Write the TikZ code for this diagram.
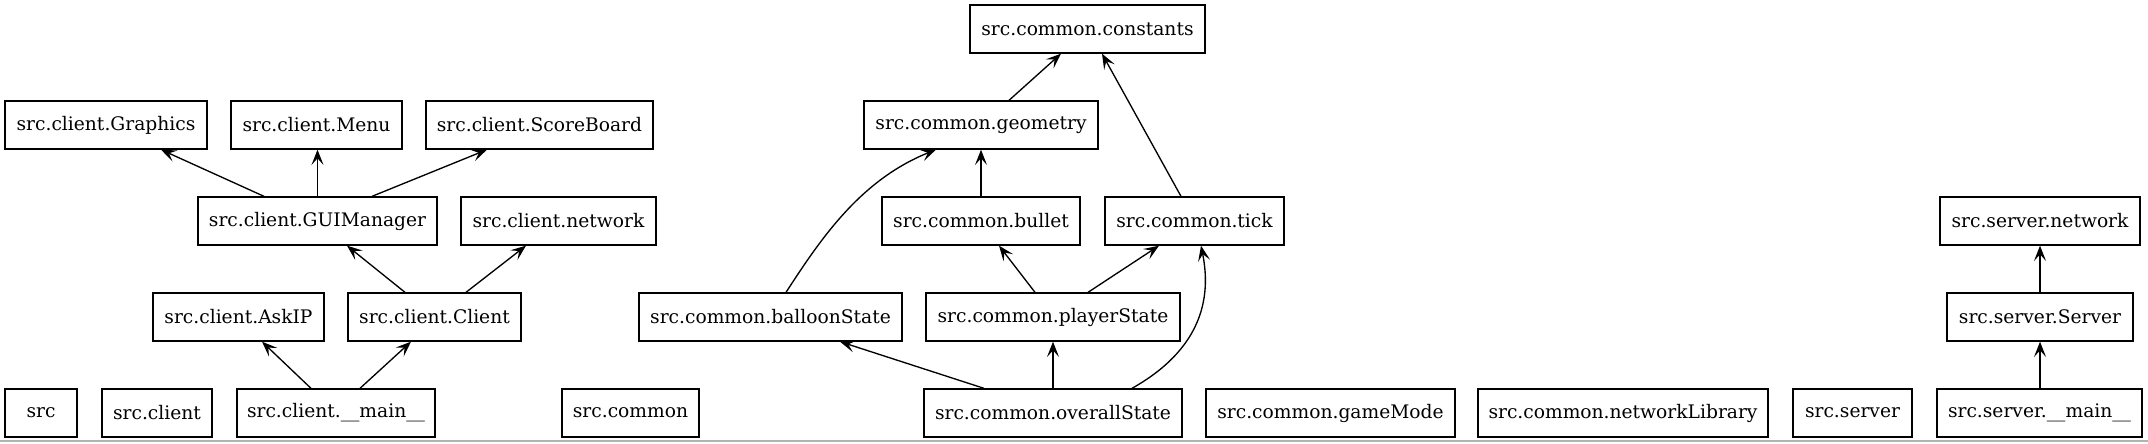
\documentclass[tikz,border=0pt]{standalone}
\usepackage{fontspec}
\setmainfont{DejaVu Serif}
\usetikzlibrary{arrows.meta}
\begin{document}
\begin{tikzpicture}[x=0.75pt,y=-0.75pt,
  box/.style={draw,line width=1pt,minimum height=36pt,inner sep=0pt,font=\fontsize{14}{17}\selectfont},
  dep/.style={draw,line width=1pt,-{Stealth[length=11.5pt,width=9pt,inset=5pt]}}]
\useasboundingbox (0,0) rectangle (2148,443);
\draw[line width=1.5pt,color=black!30] (0,441) -- (2148,441);
% client
\node[box,minimum width=202*0.75pt] (graphics) at (106,125) {src.client.Graphics};
\node[box,minimum width=171*0.75pt] (menu) at (316.5,125) {src.client.Menu};
\node[box,minimum width=227*0.75pt] (score) at (539.5,125) {src.client.ScoreBoard};
\node[box,minimum width=239*0.75pt] (gui) at (317.5,221) {src.client.GUIManager};
\node[box,minimum width=195*0.75pt] (cnet) at (558.5,221) {src.client.network};
\node[box,minimum width=171*0.75pt] (askip) at (238.5,317) {src.client.AskIP};
\node[box,minimum width=173*0.75pt] (client) at (434.5,317) {src.client.Client};
\node[box,minimum width=72*0.75pt] (src) at (41,413) {src};
\node[box,minimum width=110*0.75pt] (srcclient) at (157,413) {src.client};
\node[box,minimum width=198*0.75pt] (cmain) at (336,413) {src.client.\_\_main\_\_};
% common
\node[box,minimum width=137*0.75pt] (srccommon) at (630.5,413) {src.common};
\node[box,minimum width=235*0.75pt] (const) at (1087.5,29) {src.common.constants};
\node[box,minimum width=234*0.75pt] (geom) at (981,125) {src.common.geometry};
\node[box,minimum width=198*0.75pt] (bullet) at (981,221) {src.common.bullet};
\node[box,minimum width=179*0.75pt] (tick) at (1194.5,221) {src.common.tick};
\node[box,minimum width=263*0.75pt] (balloon) at (770.5,317) {src.common.balloonState};
\node[box,minimum width=254*0.75pt] (player) at (1053,317) {src.common.playerState};
\node[box,minimum width=258*0.75pt] (overall) at (1053,413) {src.common.overallState};
\node[box,minimum width=249*0.75pt] (gamemode) at (1330.5,413) {src.common.gameMode};
\node[box,minimum width=290*0.75pt] (netlib) at (1623,413) {src.common.networkLibrary};
% server
\node[box,minimum width=119*0.75pt] (srcserver) at (1852.5,413) {src.server};
\node[box,minimum width=205*0.75pt] (smain) at (2039.5,413) {src.server.\_\_main\_\_};
\node[box,minimum width=200*0.75pt] (snet) at (2040,221) {src.server.network};
\node[box,minimum width=186*0.75pt] (server) at (2040,317) {src.server.Server};
% edges client
\draw[dep] (gui.north -| 264,0) -- (graphics.south -| 161,0);
\draw[dep] (gui.north) -- (menu.south -| gui.north);
\draw[dep] (gui.north -| 372,0) -- (score.south -| 487,0);
\draw[dep] (client.north -| 405,0) -- (gui.south -| 347,0);
\draw[dep] (client.north -| 466,0) -- (cnet.south -| 526,0);
\draw[dep] (cmain.north -| 311,0) -- (askip.south -| 262,0);
\draw[dep] (cmain.north -| 360,0) -- (client.south -| 411,0);
% edges common
\draw[dep] (geom.north -| 1009,0) -- (const.south -| 1061,0);
\draw[dep] (tick.north -| 1181,0) -- (const.south -| 1102,0);
\draw[dep] (bullet.north) -- (geom.south);
\draw[dep] (balloon.north -| 786,0) .. controls (820,240) and (860,180) .. (geom.south -| 936,0);
\draw[dep] (player.north -| 1035,0) -- (bullet.south -| 999,0);
\draw[dep] (player.north -| 1088,0) -- (tick.south -| 1159,0);
\draw[dep] (overall.north -| 984,0) -- (balloon.south -| 840,0);
\draw[dep] (overall.north) -- (player.south);
\draw[dep] (overall.north -| 1132,0) .. controls (1200,350) and (1212,300) .. (tick.south -| 1201,0);
% edges server
\draw[dep] (server.north) -- (snet.south -| server.north);
\draw[dep] (smain.north -| server.south) -- (server.south);
\end{tikzpicture}
\end{document}
